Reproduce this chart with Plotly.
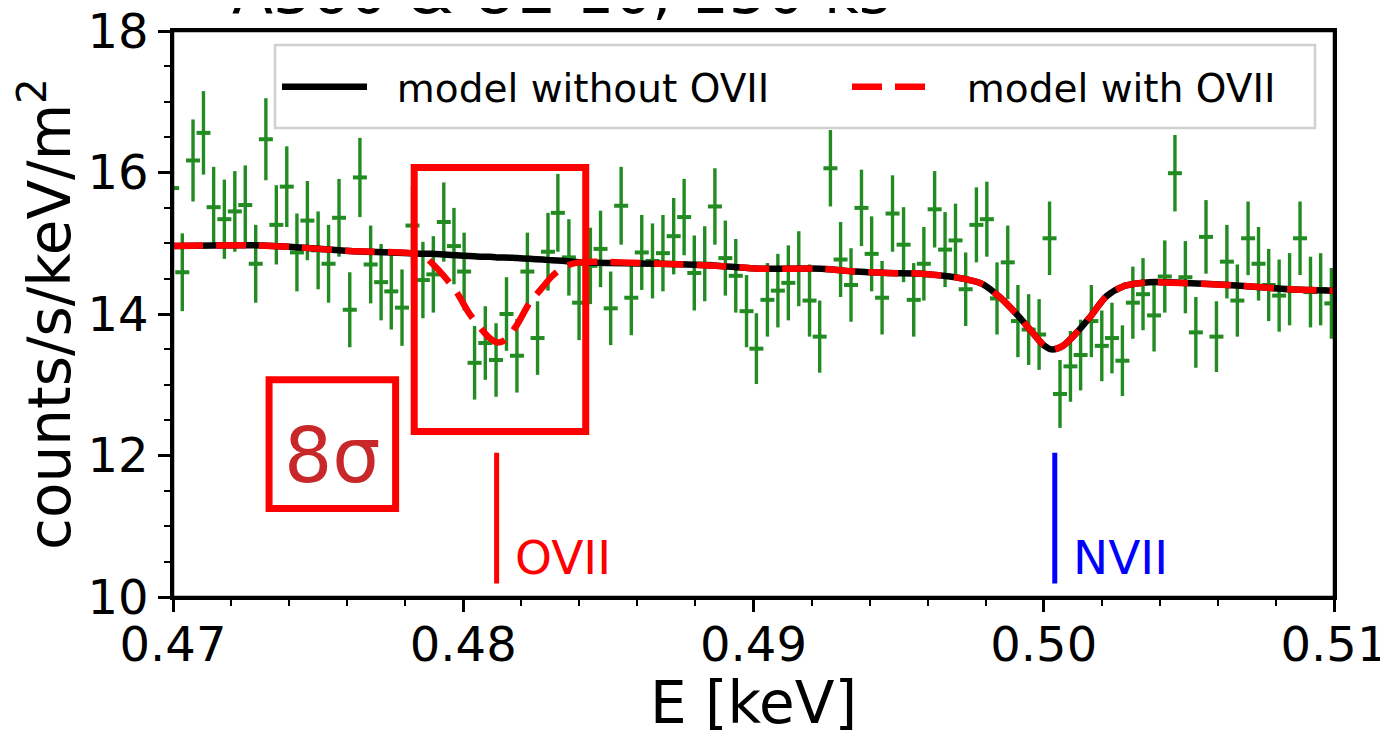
import plotly.graph_objects as go

# ---------------- data ----------------
energy = [0.46997, 0.47032, 0.47069, 0.47105, 0.47140, 0.47177, 0.47213, 0.47249, 0.47285, 0.47320,
          0.47356, 0.47392, 0.47427, 0.47463, 0.47500, 0.47536, 0.47572, 0.47609, 0.47644, 0.47681,
          0.47717, 0.47752, 0.47789, 0.47825, 0.47861, 0.47897, 0.47933, 0.47968, 0.48003, 0.48039,
          0.48076, 0.48113, 0.48149, 0.48185, 0.48221, 0.48256, 0.48292, 0.48326, 0.48364, 0.48399,
          0.48438, 0.48473, 0.48508, 0.48544, 0.48579, 0.48615, 0.48652, 0.48688, 0.48725, 0.48761,
          0.48796, 0.48832, 0.48867, 0.48903, 0.48939, 0.48976, 0.49010, 0.49048, 0.49084, 0.49120,
          0.49156, 0.49193, 0.49228, 0.49265, 0.49300, 0.49336, 0.49372, 0.49407, 0.49443, 0.49479,
          0.49517, 0.49552, 0.49587, 0.49624, 0.49660, 0.49696, 0.49731, 0.49768, 0.49804, 0.49839,
          0.49876, 0.49911, 0.49948, 0.49984, 0.50020, 0.50056, 0.50092, 0.50127, 0.50164, 0.50200,
          0.50235, 0.50271, 0.50307, 0.50342, 0.50380, 0.50417, 0.50452, 0.50488, 0.50524, 0.50559,
          0.50595, 0.50631, 0.50667, 0.50704, 0.50740, 0.50775, 0.50811, 0.50847, 0.50883, 0.50919,
          0.50954, 0.50991]

counts = [15.78, 14.59, 16.17, 16.56, 15.51, 15.34, 15.45, 15.54, 14.71, 16.47,
          15.26, 15.80, 14.87, 15.32, 14.90, 14.71, 15.36, 14.06, 15.93, 14.70,
          14.45, 14.32, 14.09, 15.25, 14.48, 14.56, 15.30, 14.96, 14.60, 13.31,
          13.59, 13.35, 14.00, 13.41, 14.60, 13.66, 14.88, 15.43, 14.80, 14.16,
          14.68, 14.92, 14.08, 15.53, 14.23, 14.87, 14.75, 14.86, 15.10, 15.37,
          14.58, 14.71, 15.52, 14.79, 14.54, 14.04, 13.51, 14.20, 14.33, 14.44,
          14.64, 14.19, 13.68, 16.06, 14.77, 14.41, 15.50, 14.85, 14.23, 15.42,
          14.98, 14.20, 14.71, 15.48, 14.91, 15.04, 14.35, 15.26, 15.34, 14.22,
          14.73, 13.90, 13.78, 13.71, 15.07, 12.87, 13.26, 13.42, 13.90, 13.55,
          13.66, 13.34, 14.16, 14.28, 13.98, 14.53, 15.99, 14.52, 13.74, 15.09,
          13.68, 14.74, 14.19, 15.07, 14.71, 14.41, 14.26, 14.35, 15.07, 14.31,
          14.35, 14.15]

counts_err = [0.57, 0.55, 0.58, 0.59, 0.57, 0.56, 0.57, 0.56, 0.55, 0.58,
              0.56, 0.57, 0.55, 0.56, 0.55, 0.55, 0.55, 0.53, 0.56, 0.55,
              0.54, 0.54, 0.54, 0.56, 0.54, 0.54, 0.56, 0.54, 0.55, 0.52,
              0.52, 0.52, 0.52, 0.52, 0.55, 0.52, 0.55, 0.55, 0.54, 0.53,
              0.54, 0.54, 0.52, 0.55, 0.53, 0.53, 0.53, 0.54, 0.54, 0.54,
              0.53, 0.53, 0.54, 0.53, 0.52, 0.51, 0.50, 0.52, 0.52, 0.53,
              0.53, 0.51, 0.51, 0.54, 0.53, 0.52, 0.54, 0.53, 0.52, 0.54,
              0.53, 0.52, 0.52, 0.54, 0.53, 0.52, 0.52, 0.53, 0.53, 0.51,
              0.52, 0.51, 0.50, 0.50, 0.52, 0.48, 0.50, 0.50, 0.51, 0.50,
              0.50, 0.50, 0.51, 0.51, 0.51, 0.51, 0.54, 0.51, 0.50, 0.52,
              0.50, 0.52, 0.51, 0.52, 0.52, 0.51, 0.51, 0.51, 0.52, 0.50,
              0.51, 0.50]

model_energy = [0.47000, 0.47281, 0.47437, 0.47609, 0.47816, 0.47867, 0.47894, 0.47935, 0.47977, 0.48022,
                0.48064, 0.48091, 0.48115, 0.48143, 0.48184, 0.48229, 0.48274, 0.48305, 0.48350, 0.48401,
                0.48677, 0.48884, 0.49021, 0.49234, 0.49349, 0.49462, 0.49578, 0.49676, 0.49745, 0.49791,
                0.49848, 0.49906, 0.49963, 0.49997, 0.50027, 0.50066, 0.50112, 0.50158, 0.50216, 0.50273,
                0.50319, 0.50365, 0.50675, 0.50847, 0.51000]

model_without_ovii = [14.96, 14.97, 14.94, 14.89, 14.86, 14.85, 14.85, 14.84, 14.83, 14.82,
                      14.81, 14.81, 14.80, 14.80, 14.79, 14.78, 14.77, 14.76, 14.75, 14.73,
                      14.71, 14.68, 14.64, 14.64, 14.60, 14.58, 14.57, 14.53, 14.48, 14.42,
                      14.24, 14.00, 13.73, 13.57, 13.50, 13.55, 13.73, 13.95, 14.25, 14.39,
                      14.43, 14.45, 14.40, 14.35, 14.33]

model_with_ovii = [14.96, 14.97, 14.94, 14.89, 14.86, 14.81, 14.71, 14.53, 14.31, 14.00,
                   13.78, 13.66, 13.60, 13.63, 13.84, 14.16, 14.38, 14.53, 14.67, 14.73,
                   14.71, 14.68, 14.64, 14.64, 14.60, 14.58, 14.57, 14.53, 14.48, 14.42,
                   14.24, 14.00, 13.73, 13.57, 13.50, 13.55, 13.73, 13.95, 14.25, 14.39,
                   14.43, 14.45, 14.40, 14.35, 14.33]

line_names = ["OVII", "NVII"]
line_energies = [0.48115, 0.50038]
line_colors = ["#ff0000", "#0000ff"]

x_ticks = [0.47, 0.48, 0.49, 0.50, 0.51]
y_ticks = [10, 12, 14, 16, 18]

FONT = "DejaVu Sans"
GREEN = "#228b22"
NB = "\u00a0"

# page body has an 8px margin: figure is sized/margined so the plot lands where the reference has it
W, H = 1380, 729
ML, MT = 165, 23
PW, PH = 1161, 566

fig = go.Figure()

fig.add_trace(go.Scatter(
    x=energy, y=counts, mode="markers", showlegend=False,
    marker=dict(symbol="line-ew", size=10, color=GREEN, line=dict(color=GREEN, width=4)),
    error_y=dict(type="data", array=counts_err, visible=True, color=GREEN, thickness=3.4, width=0),
))

fig.add_trace(go.Scatter(
    x=model_energy, y=model_without_ovii, mode="lines", name=NB * 2 + "model without OVII",
    legendwidth=470,
    line=dict(color="black", width=6.5, shape="spline", smoothing=0.8),
))
fig.add_trace(go.Scatter(
    x=model_energy, y=model_with_ovii, mode="lines", name=NB * 2 + "model with OVII",
    legendwidth=360,
    line=dict(color="#ff0000", width=6.5, dash="30px,13px", shape="spline", smoothing=0.8),
))

# plot frame
fig.add_shape(type="rect", xref="paper", yref="paper", x0=0, x1=1, y0=0, y1=1,
              line=dict(color="black", width=2.5), layer="above")

# legend frame (drawn as a shape so it can match the reference size); offsets relative to plot area
fig.add_shape(type="rect", xref="paper", yref="paper",
              x0=102 / PW, x1=1142 / PW,
              y0=1 - 97 / PH, y1=1 - 14 / PH,
              fillcolor="rgba(255,255,255,0.8)", line=dict(color="#d0d0d0", width=2.5),
              layer="above")

# Boxes
fig.add_shape(type="rect", x0=0.47831, x1=0.48422, y0=12.34, y1=16.07,
              line=dict(color="#ff0000", width=7), layer="above")
fig.add_shape(type="rect", x0=0.47331, x1=0.47767, y0=11.25, y1=13.07,
              line=dict(color="#ff0000", width=7), layer="above")
fig.add_annotation(x=0.47550, y=12.0, text="8σ", showarrow=False,
                   font=dict(family=FONT, size=76, color="#c8282a"))

# line markers
for name, e, c in zip(line_names, line_energies, line_colors):
    fig.add_shape(type="line", x0=e, x1=e, y0=10.19, y1=12.04,
                  line=dict(color=c, width=5))
    fig.add_annotation(x=e, y=10.56, text=name, showarrow=False, xanchor="left",
                       xshift=16, font=dict(family=FONT, size=47, color=c))

# cut-off title at very top
fig.add_annotation(xref="paper", yref="paper", x=57 / PW, y=1 + 2 / PH, xanchor="left", yanchor="bottom",
                   text="A360 & UE-10, 150 ks", showarrow=False,
                   font=dict(family=FONT, size=60, color="black"))

fig.update_layout(
    width=W, height=H,
    margin=dict(l=ML, r=W - ML - PW, t=MT, b=H - MT - PH, autoexpand=False),
    paper_bgcolor="white", plot_bgcolor="white",
    font=dict(family=FONT, color="black"),
    showlegend=True,
    legend=dict(
        orientation="h", x=104 / PW, y=1 - 56 / PH,
        xanchor="left", yanchor="middle",
        bgcolor="rgba(0,0,0,0)", borderwidth=0,
        font=dict(family=FONT, size=39, color="black"),
        itemwidth=85, traceorder="normal",
    ),
)

fig.update_xaxes(
    range=[0.47, 0.51], tickvals=x_ticks, ticktext=[f"{v:.2f}" for v in x_ticks],
    automargin=False, ticklabeloverflow="allow", ticklabelstandoff=-8,
    showline=True, linecolor="black", linewidth=2.5, mirror=True,
    ticks="outside", ticklen=12, tickwidth=2.5, tickcolor="black",
    tickfont=dict(family=FONT, size=48),
    minor=dict(dtick=0.002, tick0=0.47, ticks="outside", ticklen=6, tickwidth=1.8, tickcolor="black"),
    showgrid=False, zeroline=False,
    title=dict(text="E [keV]", font=dict(family=FONT, size=58)),
)
fig.update_yaxes(
    range=[10, 18], tickvals=y_ticks,
    automargin=False, ticklabeloverflow="allow",
    showline=True, linecolor="black", linewidth=2.5, mirror=True,
    ticks="outside", ticklen=12, tickwidth=2.5, tickcolor="black",
    tickfont=dict(family=FONT, size=48),
    minor=dict(dtick=0.5, tick0=10, ticks="outside", ticklen=6, tickwidth=1.8, tickcolor="black"),
    showgrid=False, zeroline=False,
    title=dict(text="counts/s/keV/m<sup>2</sup>", font=dict(family=FONT, size=58)),
)

fig.write_html("out.html")
